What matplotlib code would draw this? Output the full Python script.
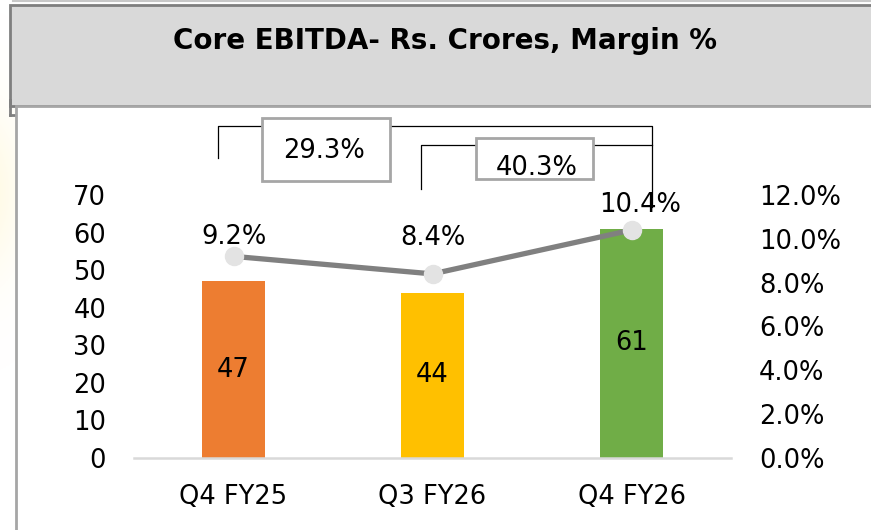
import matplotlib
matplotlib.use("Agg")
import matplotlib.pyplot as plt
from matplotlib.patches import Rectangle
from matplotlib.lines import Line2D
import numpy as np

# ---- data ----
categories = ["Q4 FY25", "Q3 FY26", "Q4 FY26"]
ebitda = [47, 44, 61]
margin = [0.092, 0.084, 0.104]
margin_labels = ["9.2%", "8.4%", "10.4%"]
growth_labels = ["29.3%", "40.3%"]
title = "Core EBITDA- Rs. Crores, Margin %"
left_ticks = [0, 10, 20, 30, 40, 50, 60, 70]
right_ticks = [0.0, 0.02, 0.04, 0.06, 0.08, 0.10, 0.12]

# ---- style ----
bar_colors = ["#ED7D31", "#FFC000", "#70AD47"]
W, H = 871, 530
FS = 18.5
plt.rcParams["font.family"] = ["DejaVu Sans"]

fig = plt.figure(figsize=(W / 100, H / 100), dpi=100)
fig.patch.set_facecolor("white")


def fx(px):
    return px / W


def fy(py):
    return 1 - py / H


def rect(x0, y0, x1, y1, z, **kw):
    r = Rectangle((fx(x0), fy(y1)), fx(x1) - fx(x0), fy(y0) - fy(y1),
                  transform=fig.transFigure, zorder=z, **kw)
    fig.add_artist(r)
    return r


def line(xs, ys, z, **kw):
    l = Line2D([fx(x) for x in xs], [fy(y) for y in ys], transform=fig.transFigure,
               zorder=z, **kw)
    fig.add_artist(l)


# faint yellow glow at left edge
bg = fig.add_axes([0, 0, fx(16), 1])
bg.set_zorder(-20)
bg.set_axis_off()
yy = np.linspace(0, 1, 200)[:, None]
xx = np.linspace(0, 1, 20)[None, :]
glow = np.exp(-((yy - 0.36) / 0.16) ** 2) * (1 - 0.4 * xx)
img = np.ones((200, 20, 4))
img[..., 0] = 1.0
img[..., 1] = 0.96
img[..., 2] = 0.75
img[..., 3] = 0.35 * glow
bg.imshow(img, aspect="auto", extent=[0, 1, 0, 1], origin="upper")
bg.set_xlim(0, 1)
bg.set_ylim(0, 1)

# background faint line at very top
line([13, 875], [1, 1], -10, color="#c8c8c8", lw=1.5)
# title box
rect(9.5, 4.5, 880, 106, -9, facecolor="#D9D9D9", edgecolor="#7F7F7F", lw=2.0)
line([9.5, 9.5], [100, 115], -9, color="#7F7F7F", lw=2.0)
line([9.5, 16], [115, 115], -9, color="#7F7F7F", lw=2.0)
# white panel
rect(15.5, 106, 880, 540, -8, facecolor="white", edgecolor="#A6A6A6", lw=2.0)
fig.text(fx(445), fy(41), title, ha="center", va="center",
         fontsize=20, fontweight="bold", color="black", zorder=-7)

# ---- main axes ----
ax = fig.add_axes([fx(134), fy(458), fx(731) - fx(134), fy(195) - fy(458)])
ax.set_zorder(1)
ax.set_facecolor("none")
x = np.arange(len(categories))
bars = ax.bar(x, ebitda, width=0.317, color=bar_colors, zorder=2)
ax.set_xlim(-0.5, len(categories) - 0.5)
ax.set_ylim(left_ticks[0], left_ticks[-1])
ax.set_yticks(left_ticks)
ax.set_yticklabels([str(t) for t in left_ticks])
ax.set_xticks(x)
ax.set_xticklabels(categories)
ax.tick_params(axis="both", length=0, labelsize=FS)
ax.tick_params(axis="y", pad=20)
ax.tick_params(axis="x", pad=19)
for s in ["top", "left", "right"]:
    ax.spines[s].set_visible(False)
ax.spines["bottom"].set_color("#D9D9D9")
ax.spines["bottom"].set_linewidth(1.8)
for b, v in zip(bars, ebitda):
    ax.text(b.get_x() + b.get_width() / 2, v / 2, str(v), ha="center", va="center",
            fontsize=FS, color="black", zorder=3)

ax2 = ax.twinx()
ax2.set_zorder(2)
ax2.set_facecolor("none")
ax2.set_ylim(right_ticks[0], right_ticks[-1])
ax2.set_yticks(right_ticks)
ax2.set_yticklabels([f"{t * 100:.1f}%" for t in right_ticks])
ax2.tick_params(axis="y", length=0, labelsize=FS, pad=20)
for s in ax2.spines.values():
    s.set_visible(False)
ax2.plot(x, margin, color="#808080", lw=3.8, marker="o", markersize=13,
         markerfacecolor="#E3E3E3", markeredgecolor="#E3E3E3", zorder=4,
         solid_capstyle="butt")
label_offsets = [(0, 14), (0, 26), (6, 18)]
for xi, m, lab, off in zip(x, margin, margin_labels, label_offsets):
    ax2.annotate(lab, (xi, m), xytext=off, textcoords="offset points",
                 ha="center", va="center", fontsize=FS, color="black", zorder=5)

# ---- growth brackets ----
line([218, 218, 652, 652], [158, 126, 126, 207], 10, color="black", lw=0.9)
line([421, 421, 652], [189, 145, 145], 10, color="black", lw=0.9)
rect(262, 118, 390, 181, 11, facecolor="white", edgecolor="#A6A6A6", lw=2.0)
rect(476, 138, 593, 179, 11, facecolor="white", edgecolor="#A6A6A6", lw=2.0)
fig.text(fx(324), fy(151), growth_labels[0], ha="center", va="center", fontsize=FS, zorder=12)
fig.text(fx(537), fy(168), growth_labels[1], ha="center", va="center", fontsize=FS, zorder=12)

fig.savefig("out.png", dpi=100, facecolor="white")
